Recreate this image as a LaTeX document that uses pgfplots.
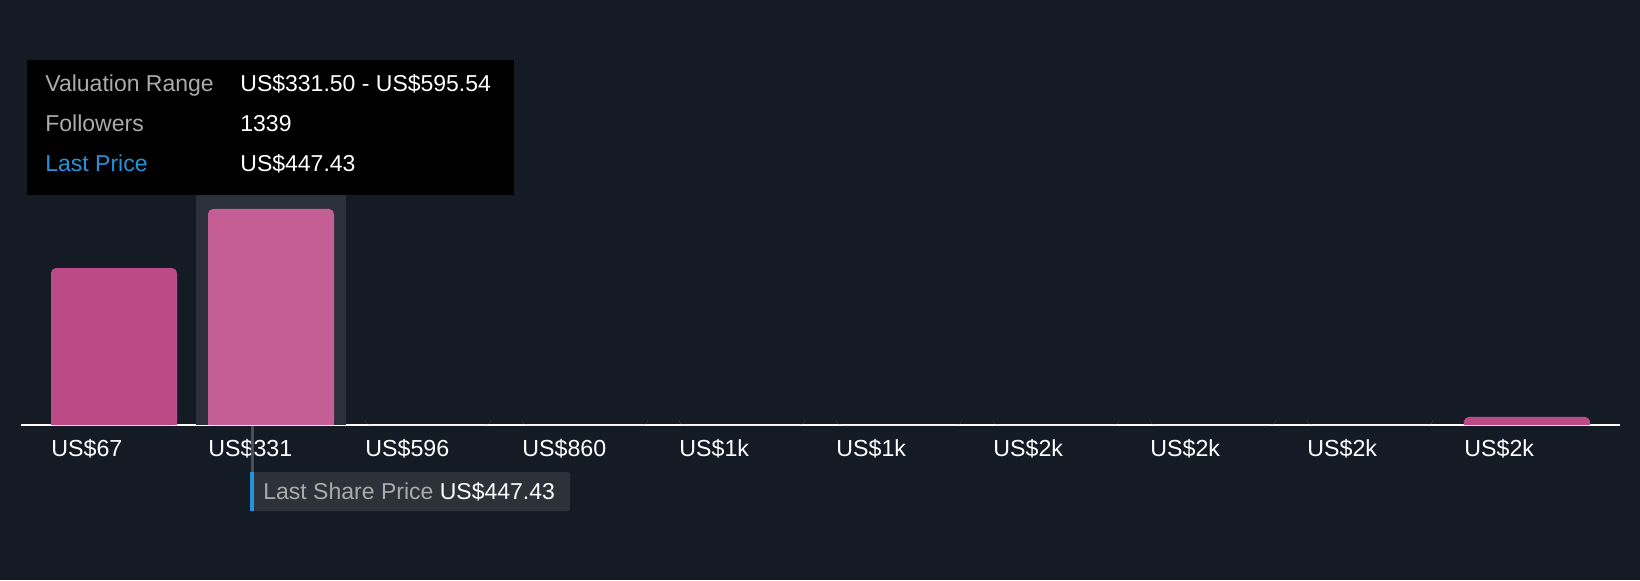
\documentclass[border=0pt]{standalone}
\usepackage{fontspec}
\setmainfont{Liberation Sans}
\usepackage{pgfplots}
\pgfplotsset{compat=1.18}
\definecolor{bg}{HTML}{151B25}
\definecolor{hl}{HTML}{2B303A}
\definecolor{barA}{HTML}{BB4A87}
\definecolor{barB}{HTML}{C45E94}
\definecolor{lpblue}{HTML}{2394DB}
\definecolor{txtgray}{HTML}{ABABAB}
\definecolor{boxbg}{HTML}{2C313A}
\definecolor{linegray}{HTML}{4A4F57}
\begin{document}
\begin{tikzpicture}[font=\fontsize{11.5}{14}\selectfont]
\fill[bg] (-10.5pt,-77.5pt) rectangle (809.5pt,212.5pt);
\begin{axis}[
  at={(0,0)}, anchor=south west, scale only axis,
  width=799.5pt, height=182.5pt,
  xmin=-0.5924, xmax=9.5924, ymin=0, ymax=2262.6,
  clip=false,
  axis y line=none, axis x line*=bottom,
  x axis line style={white, line width=1pt, -},
  xtick={0,1,2,3,4,5,6,7,8,9},
  xticklabels={US\$67,US\$331,US\$596,US\$860,US\$1k,US\$1k,US\$2k,US\$2k,US\$2k,US\$2k},
  major tick length=0pt,
  xticklabel style={anchor=base west, inner sep=0pt, xshift=-31.5pt, yshift=-15.85pt, text=white, font=\fontsize{11.6}{14}\selectfont},
  ybar, bar width=63pt,
]
% hovered-bin highlight
\addplot[ybar, bar shift=0pt, bar width=75pt, fill=hl, draw=none] coordinates {(1,2262.6)};
% bars (rounded tops)
\addplot[ybar, bar shift=0pt, fill=barA, draw=none, rounded corners=2.5pt] coordinates {(0,973) (2,0) (3,0) (4,0) (5,0) (6,0) (7,0) (8,0) (9,50)};
\addplot[ybar, bar shift=0pt, fill=barA, draw=none] coordinates {(0,900) (9,25)};
\addplot[ybar, bar shift=0pt, fill=barB, draw=none, rounded corners=2.5pt] coordinates {(1,1339)};
\addplot[ybar, bar shift=0pt, fill=barB, draw=none] coordinates {(1,1250)};
\end{axis}
% last price marker line (US$447.43)
\draw[linegray, line width=1.5pt] (115.5pt,-0.5pt) -- (115.5pt,-23.5pt);
% last share price box
\fill[boxbg, rounded corners=1pt] (114.5pt,-23.5pt) rectangle (274.5pt,-43pt);
\fill[lpblue] (114.5pt,-23.5pt) rectangle (116.5pt,-43pt);
\node[anchor=base west, inner sep=0pt] at (121pt,-37pt) {\textcolor{txtgray}{Last Share Price} \textcolor{white}{US\$447.43}};
% tooltip
\fill[black] (3pt,115pt) rectangle (246.5pt,182.5pt);
\node[anchor=base west, inner sep=0pt, text=txtgray] at (12pt,166.7pt) {Valuation Range};
\node[anchor=base west, inner sep=0pt, text=white] at (109.5pt,166.7pt) {US\$331.50 - US\$595.54};
\node[anchor=base west, inner sep=0pt, text=txtgray] at (12pt,146.7pt) {Followers};
\node[anchor=base west, inner sep=0pt, text=white] at (109.5pt,146.7pt) {1339};
\node[anchor=base west, inner sep=0pt, text=lpblue] at (12pt,127pt) {Last Price};
\node[anchor=base west, inner sep=0pt, text=white] at (109.5pt,127pt) {US\$447.43};
\pgfresetboundingbox
\useasboundingbox (-10.5pt,-77.5pt) rectangle (809.5pt,212.5pt);
\end{tikzpicture}
\end{document}
